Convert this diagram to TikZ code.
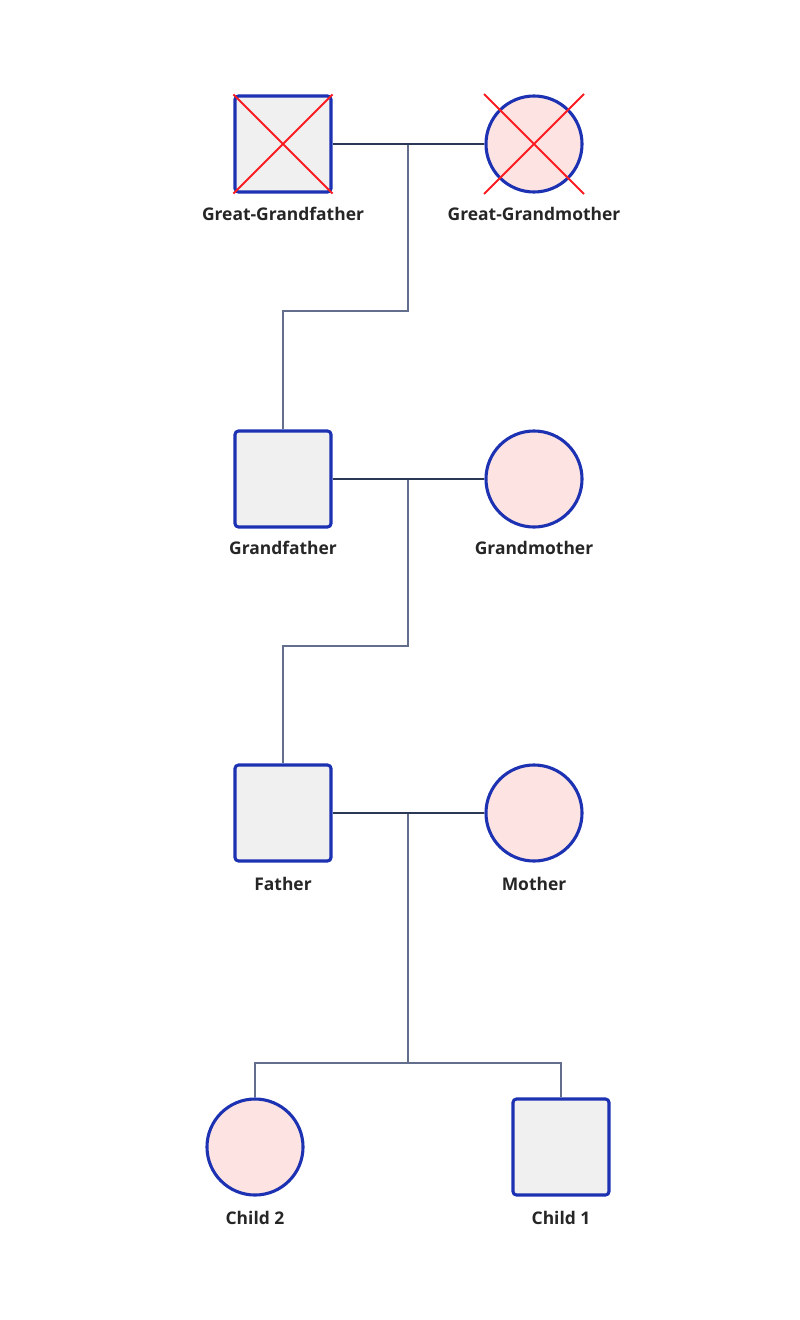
\documentclass[tikz,border=0pt]{standalone}
\usepackage{fontspec}
\setmainfont{Open Sans}
\usepackage{tikz}

\definecolor{edgeblue}{RGB}{28,50,178}
\definecolor{malefill}{RGB}{240,240,240}
\definecolor{femalefill}{RGB}{253,227,225}
\definecolor{coupleline}{RGB}{42,56,86}
\definecolor{descentline}{RGB}{98,110,140}
\definecolor{deadred}{RGB}{250,30,35}

\begin{document}
\begin{tikzpicture}[x=0.025cm,y=-0.025cm,
	male/.style={draw=edgeblue, line width=2.2pt, fill=malefill, rectangle, rounded corners=2.5pt, minimum size=2.4cm, inner sep=0pt},
	female/.style={draw=edgeblue, line width=2.2pt, fill=femalefill, circle, minimum size=2.4cm, inner sep=0pt},
	personlabel/.style={font=\fontsize{12.4}{14}\selectfont\bfseries, text=black!85},
	couple/.style={draw=coupleline, line width=2.1pt},
	descent/.style={draw=descentline, line width=1pt},
	deceased/.style={draw=deadred, line width=1.4pt}]

	\useasboundingbox (0,0) rectangle (800,1320);

	\node[male] (ggf) at (283,144) {};
	\node[female] (ggm) at (534,144) {};
	\node[male] (gf) at (283,479) {};
	\node[female] (gm) at (534,479) {};
	\node[male] (f) at (283,813) {};
	\node[female] (m) at (534,813) {};
	\node[female] (c2) at (255,1147) {};
	\node[male] (c1) at (561,1147) {};

	% crosses for the deceased
	\draw[deceased] (ggf.north west)--(ggf.south east) (ggf.north east)--(ggf.south west);
	\draw[deceased] (ggm.center) ++(-50,-50) -- ++(100,100) (ggm.center) ++(50,-50) -- ++(-100,100);

	\node[personlabel] (ggf_l) at (283,214) {Great-Grandfather};
	\node[personlabel] (ggm_l) at (534,214) {Great-Grandmother};
	\node[personlabel] (gf_l) at (283,548) {Grandfather};
	\node[personlabel] (gm_l) at (534,548) {Grandmother};
	\node[personlabel] (f_l) at (283,884) {Father};
	\node[personlabel] (m_l) at (534,884) {Mother};
	\node[personlabel] (c2_l) at (255,1218) {Child 2};
	\node[personlabel] (c1_l) at (561,1218) {Child 1};

	\coordinate (m1) at (408,144);
	\coordinate (m2) at (408,479);
	\coordinate (m3) at (408,813);
	\coordinate (sib) at (408,1063);

	\draw[descent] (m1) -- ++(0,167) -| (gf.north);
	\draw[descent] (m2) -- ++(0,167) -| (f.north);
	\draw[descent] (m3) -- (sib);
	\draw[descent] (c2.north) |- (sib) -| (c1.north);

	\draw[couple] (ggf.east)--(ggm.west) (gf.east)--(gm.west) (f.east)--(m.west);
\end{tikzpicture}
\end{document}
